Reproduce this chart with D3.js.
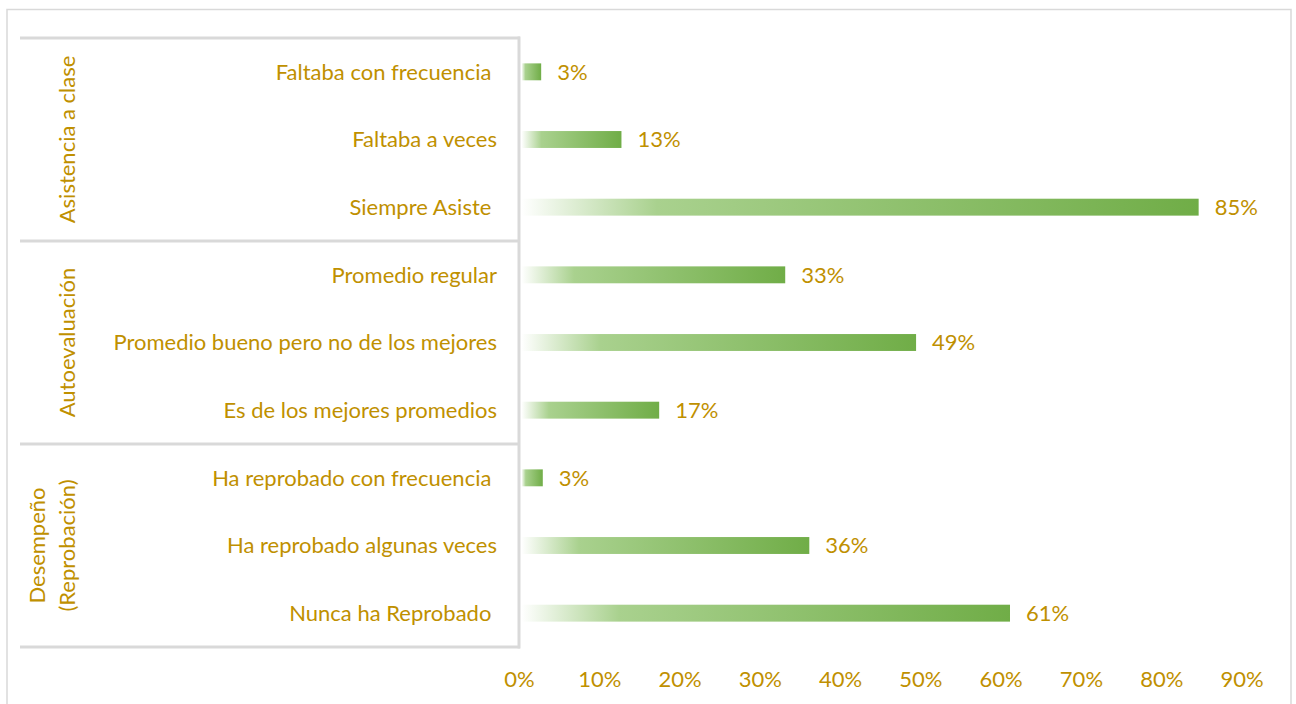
<!DOCTYPE html>
<html><head><meta charset="utf-8">
<script src="https://cdn.jsdelivr.net/npm/d3@7"></script>
<style>body{margin:0;background:#fff}svg{display:block}text{font-family:Lato,"Open Sans",sans-serif;fill:#BF9000;white-space:pre}</style>
</head><body><svg id="c" width="1296" height="704"></svg>
<script>
const categories = ["Faltaba con frecuencia ","Faltaba a veces","Siempre Asiste ","Promedio regular","Promedio bueno pero no de los mejores","Es de los mejores promedios","Ha reprobado con frecuencia ","Ha reprobado algunas veces","Nunca ha Reprobado "];
const values = [2.7,12.7,84.6,33.1,49.4,17.4,2.9,36.1,61.1];
const valueLabels = ["3%","13%","85%","33%","49%","17%","3%","36%","61%"];
const groups = [["Asistencia a clase"],["Autoevaluación"],["Desempeño","(Reprobación)"]];
const groupSizes = [3,3,3];
const ticks = [0,10,20,30,40,50,60,70,80,90];

const svg = d3.select("#c");
const x = d3.scaleLinear().domain([0,90]).range([519.5,1242]);
const y = d3.scaleBand().domain(categories).range([38,647]).paddingInner(0.75).paddingOuter(0.375);
const step = y.step();
const fs = 22;

const defs = svg.append("defs");
const g = defs.append("linearGradient").attr("id","gr").attr("x1","0").attr("x2","1").attr("y1","0").attr("y2","0");
g.append("stop").attr("offset","0").attr("stop-color","#ffffff");
g.append("stop").attr("offset","0.2").attr("stop-color","#a9d18e");
g.append("stop").attr("offset","1").attr("stop-color","#70ad47");

// outer border
svg.append("rect").attr("x",7).attr("y",9.5).attr("width",1284).attr("height",720).attr("fill","none").attr("stroke","#d9d9d9").attr("stroke-width",1.5);

// bars
svg.selectAll(".bar").data(categories).join("rect")
  .attr("x",x(0)+2).attr("y",d=>y(d)).attr("height",y.bandwidth())
  .attr("width",(d,i)=>x(values[i])-x(0)-2).attr("fill","url(#gr)");

svg.selectAll(".vl").data(categories).join("text")
  .attr("x",(d,i)=>x(values[i])+16).attr("y",d=>y(d)+y.bandwidth()/2).attr("dy","0.35em")
  .attr("font-size",fs).text((d,i)=>valueLabels[i]);

svg.selectAll(".cl").data(categories).join("text")
  .attr("x",497).attr("y",d=>y(d)+y.bandwidth()/2).attr("dy","0.35em").attr("text-anchor","end")
  .attr("font-size",fs).text(d=>d);

// table lines
const lineColor = "#d9d9d9";
let start = 0;
const top0 = 38;
const bounds = [];
groupSizes.forEach((n,gi)=>{
  const y0 = top0 + start*step, y1 = top0 + (start+n)*step;
  bounds.push(y0);
  const lines = groups[gi];
  const cy = (y0+y1)/2;
  const xs = lines.length===1 ? [67] : [37,67];
  lines.forEach((t,li)=>{
    svg.append("text").attr("transform",`translate(${xs[li]+8},${cy}) rotate(-90)`)
      .attr("text-anchor","middle").attr("font-size",fs).text(t);
  });
  start += n;
});
bounds.push(top0 + start*step);
bounds.forEach(b=>{
  svg.append("line").attr("x1",20).attr("x2",520).attr("y1",b).attr("y2",b).attr("stroke",lineColor).attr("stroke-width",3);
});
svg.append("line").attr("x1",519).attr("x2",519).attr("y1",38-1.5).attr("y2",647+1.5).attr("stroke",lineColor).attr("stroke-width",3);

// x axis labels
svg.selectAll(".tk").data(ticks).join("text")
  .attr("x",d=>x(d)).attr("y",679).attr("dy","0.35em").attr("text-anchor","middle")
  .attr("font-size",fs).text(d=>d+"%");
</script></body></html>
